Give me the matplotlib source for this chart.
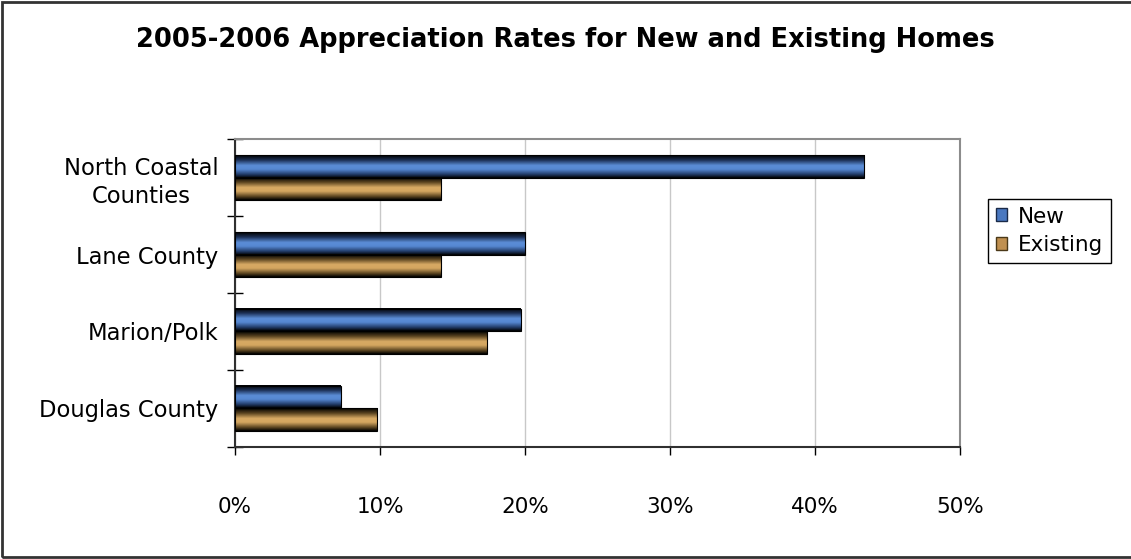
import matplotlib.pyplot as plt
import numpy as np
from matplotlib.colors import LinearSegmentedColormap
from matplotlib.patches import Patch, Rectangle
from matplotlib.ticker import FixedLocator, PercentFormatter

regions = ['North Coastal\nCounties', 'Lane County', 'Marion/Polk', 'Douglas County']
new_homes = [43.4, 20.0, 19.7, 7.3]
existing_homes = [14.2, 14.2, 17.4, 9.8]

title = '2005-2006 Appreciation Rates for New and Existing Homes'

# cylinder-style shading: dark edges, light middle
blue_cm = LinearSegmentedColormap.from_list(
    'blue_cyl', [(0, '#000000'), (0.22, '#1d3258'), (0.45, '#5b8dd7'),
                 (0.62, '#5688d2'), (0.85, '#213a66'), (1, '#000000')])
tan_cm = LinearSegmentedColormap.from_list(
    'tan_cyl', [(0, '#000000'), (0.22, '#5a4420'), (0.45, '#d8aa64'),
                (0.62, '#d4a660'), (0.85, '#5a4420'), (1, '#000000')])

fig = plt.figure(figsize=(11.31, 5.59), dpi=100)
ax = fig.add_axes([0.2078, 0.2004, 0.6410, 0.5509])

y = np.arange(len(regions))
h = 0.286
bars_new = ax.barh(y - h / 2, new_homes, height=h, facecolor='none',
                   edgecolor='black', linewidth=0.8, zorder=4)
bars_ex = ax.barh(y + h / 2, existing_homes, height=h, facecolor='none',
                  edgecolor='black', linewidth=0.8, zorder=4)

grad = np.linspace(0, 1, 64).reshape(-1, 1)
for bars, cm in ((bars_new, blue_cm), (bars_ex, tan_cm)):
    for p in bars:
        x0, y0 = p.get_x(), p.get_y()
        ax.imshow(grad, extent=[x0, x0 + p.get_width(), y0 + p.get_height(), y0],
                  aspect='auto', cmap=cm, interpolation='bilinear', zorder=3)

ax.set_xlim(0, 50)
ax.set_ylim(len(regions) - 0.5, -0.5)
ax.set_aspect('auto')

ax.set_xticks(np.arange(0, 51, 10))
ax.xaxis.set_major_formatter(PercentFormatter(decimals=0))
ax.grid(axis='x', color='#c8c8c8', linewidth=1, zorder=0)
ax.set_axisbelow(True)

ax.yaxis.set_major_locator(FixedLocator(np.arange(-0.5, len(regions), 1)))
ax.yaxis.set_minor_locator(FixedLocator(y))
ax.set_yticklabels([], minor=False)
ax.set_yticklabels(regions, minor=True, fontsize=16.3, linespacing=1.25,
                   ha='right', multialignment='center')
ax.tick_params(axis='y', which='minor', length=0, pad=12)
ax.tick_params(axis='y', which='major', direction='inout', length=12, width=1)
ax.tick_params(axis='x', direction='out', length=6, width=1, labelsize=15.5,
               pad=30)

for side in ('top', 'right'):
    ax.spines[side].set_color('#8c8c8c')
    ax.spines[side].set_linewidth(1.5)
for side in ('left', 'bottom'):
    ax.spines[side].set_color('#303030')
    ax.spines[side].set_linewidth(1.5)

fig.text(0.5, 0.928, title, ha='center', va='center', fontsize=18.5,
         fontweight='bold')

handles = [Patch(facecolor='#4a78c0', edgecolor='#1a2a48'),
           Patch(facecolor='#c09050', edgecolor='#4a3818')]
leg = fig.legend(handles, ['New', 'Existing'], loc='upper left',
                 bbox_to_anchor=(0.8736, 0.644), fontsize=15.5,
                 fancybox=False, edgecolor='black', framealpha=1,
                 handlelength=0.55, handleheight=0.55, handletextpad=0.5,
                 borderpad=0.35, labelspacing=0.4, borderaxespad=0)
leg.get_frame().set_linewidth(1)

# outer chart frame
fig.patches.append(Rectangle((2 / 1131, 2 / 559), 1.05, 1 - 4 / 559,
                             transform=fig.transFigure, fill=False,
                             edgecolor='#333333', linewidth=2))

fig.savefig('out.png', dpi=100)
